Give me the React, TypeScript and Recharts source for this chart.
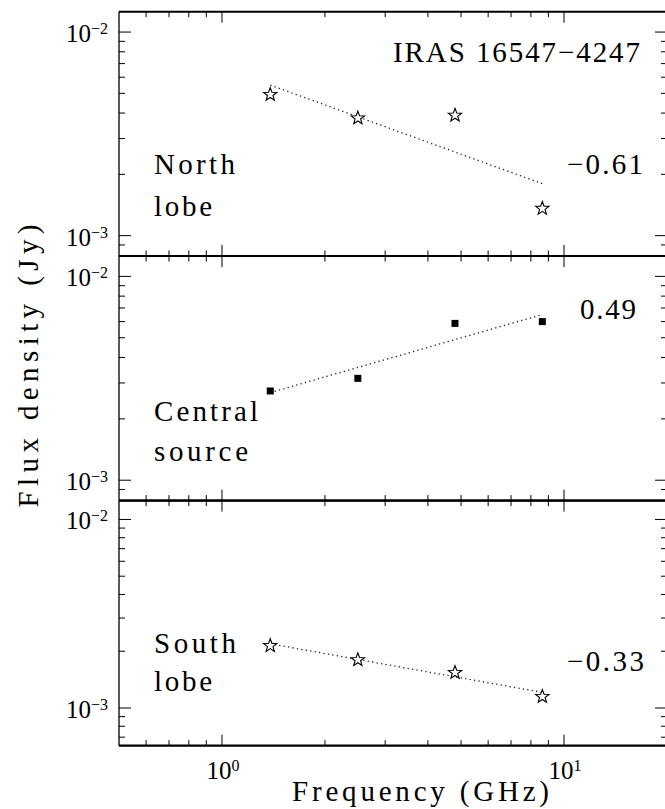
import React from 'react';
import { ScatterChart, Scatter, XAxis, YAxis } from 'recharts';

// ATCA frequencies (GHz) and flux densities (Jy)
const freqs = [1.384, 2.496, 4.8, 8.64];
const northFlux = [4.93e-3, 3.78e-3, 3.9e-3, 1.36e-3];
const centralFlux = [2.74e-3, 3.16e-3, 5.88e-3, 6.0e-3];
const southFlux = [2.14e-3, 1.8e-3, 1.54e-3, 1.15e-3];

// power-law fit end points
const fitFreqs = [1.384, 8.64];
const northFit = [5.49e-3, 1.8e-3];
const centralFit = [2.69e-3, 6.5e-3];
const southFit = [2.19e-3, 1.21e-3];

const xDomain = [0.5, 20];
const xTicks = [0.6, 0.7, 0.8, 0.9, 1, 2, 3, 4, 5, 6, 7, 8, 9, 10];
const xTickLabels: Record<number, string> = { 1: '0', 10: '1' };

const yTicks = [9e-4, 1e-3, 2e-3, 3e-3, 4e-3, 5e-3, 6e-3, 7e-3, 8e-3, 9e-3, 1e-2];
const yTicksSouth = [7e-4, 8e-4, 9e-4, 1e-3, 2e-3, 3e-3, 4e-3, 5e-3, 6e-3, 7e-3, 8e-3, 9e-3, 1e-2];
const yTickLabels: Record<number, string> = { 0.001: '−3', 0.01: '−2' };

const W = 700;
const H = 809;
const PLOT_LEFT = 119;
const PLOT_RIGHT = 667;
const FONT = '"Liberation Serif", "Times New Roman", serif';

const toPoints = (xs: number[], ys: number[]) => xs.map((nu, i) => ({ nu, s: ys[i] }));

function StarShape(props: any) {
  const { cx, cy } = props;
  if (cx == null || cy == null) return <g />;
  const pts: string[] = [];
  for (let k = 0; k < 10; k++) {
    const r = k % 2 === 0 ? 7 : 2.9;
    const a = -Math.PI / 2 + (k * Math.PI) / 5;
    pts.push(`${cx + r * Math.cos(a)},${cy + r * Math.sin(a)}`);
  }
  return <polygon points={pts.join(' ')} fill="#fff" stroke="#000" strokeWidth={1.1} />;
}

function SquareShape(props: any) {
  const { cx, cy } = props;
  if (cx == null || cy == null) return <g />;
  return <rect x={cx - 3.5} y={cy - 3.5} width={7} height={7} fill="#000" />;
}

const NoShape = () => <g />;

function XTick({ x, y, payload, side, labels }: any) {
  const v = payload.value;
  const major = v in xTickLabels;
  const len = major ? 11 : 5.5;
  const dir = side === 'top' ? 1 : -1;
  return (
    <g>
      <line x1={x} y1={y} x2={x} y2={y + dir * len} stroke="#000" strokeWidth={1} />
      {labels && major && (
        <text x={x + 1} y={y + 33} textAnchor="middle" fontFamily={FONT} fontSize={25} fill="#000">
          10
          <tspan dy={-8} fontSize={16}>{xTickLabels[v]}</tspan>
        </text>
      )}
    </g>
  );
}

function YTick({ x, y, payload, side }: any) {
  const v = payload.value;
  const major = v in yTickLabels;
  const len = major ? 12 : 6;
  const dir = side === 'right' ? -1 : 1;
  return (
    <g>
      <line x1={x} y1={y} x2={x + dir * len} y2={y} stroke="#000" strokeWidth={1} />
      {side === 'left' && major && (
        <text x={x - 11} y={y + 10} textAnchor="end" fontFamily={FONT} fontSize={25} fill="#000">
          10
          <tspan dy={-8} fontSize={16}>{yTickLabels[v]}</tspan>
        </text>
      )}
    </g>
  );
}

interface PanelProps {
  top: number;
  bottom: number;
  yDomain: number[];
  ticks: number[];
  data: { nu: number; s: number }[];
  fit: { nu: number; s: number }[];
  shape: any;
  showXLabels?: boolean;
}

function Panel({ top, bottom, yDomain, ticks, data, fit, shape, showXLabels }: PanelProps) {
  const common = { type: 'number' as const, scale: 'log' as const, allowDataOverflow: true, tickSize: 0, tickMargin: 0, tickLine: false, interval: 0 as const };
  return (
    <div style={{ position: 'absolute', left: 0, top: 0 }}>
      <ScatterChart width={W} height={H} margin={{ top: top - 1, bottom: H - bottom - 1, left: PLOT_LEFT - 1, right: W - PLOT_RIGHT - 1 }}>
        <XAxis
          {...common}
          xAxisId="b"
          dataKey="nu"
          domain={xDomain}
          ticks={xTicks}
          height={1}
          axisLine={{ stroke: '#000', strokeWidth: 2.2 }}
          tick={(p: any) => <XTick {...p} side="bottom" labels={showXLabels} />}
        />
        <XAxis
          {...common}
          xAxisId="t"
          orientation="top"
          dataKey="nu"
          domain={xDomain}
          ticks={xTicks}
          height={1}
          axisLine={{ stroke: '#000', strokeWidth: 2 }}
          tick={(p: any) => <XTick {...p} side="top" />}
        />
        <YAxis
          {...common}
          yAxisId="l"
          dataKey="s"
          domain={yDomain}
          ticks={ticks}
          width={1}
          axisLine={{ stroke: '#000', strokeWidth: 1.3 }}
          tick={(p: any) => <YTick {...p} side="left" />}
        />
        <YAxis
          {...common}
          yAxisId="r"
          orientation="right"
          dataKey="s"
          domain={yDomain}
          ticks={ticks}
          width={1}
          axisLine={{ stroke: '#000', strokeWidth: 1.3 }}
          tick={(p: any) => <YTick {...p} side="right" />}
        />
        <Scatter
          xAxisId="b"
          yAxisId="l"
          data={fit}
          shape={NoShape}
          line={{ stroke: '#222', strokeWidth: 1.3, strokeDasharray: '1.3 3.2' }}
          isAnimationActive={false}
        />
        <Scatter xAxisId="b" yAxisId="l" data={data} shape={shape} isAnimationActive={false} />
      </ScatterChart>
    </div>
  );
}

const texts = [
  { t: 'IRAS 16547−4247', x: 393, y: 62, len: 247 },
  { t: 'North', x: 154, y: 174, len: 81 },
  { t: 'lobe', x: 154, y: 216, len: 58 },
  { t: '−0.61', x: 567, y: 174, len: 76 },
  { t: '0.49', x: 580, y: 319, len: 56 },
  { t: 'Central', x: 154, y: 421, len: 104 },
  { t: 'source', x: 154, y: 461, len: 94 },
  { t: 'South', x: 154, y: 653, len: 82 },
  { t: 'lobe', x: 154, y: 691, len: 58 },
  { t: '−0.33', x: 567, y: 671, len: 77 },
  { t: 'Frequency (GHz)', x: 292, y: 801, len: 257 },
];

export default function App() {
  return (
    <div style={{ position: 'absolute', left: 0, top: 0, width: 665, height: 809, overflow: 'hidden', background: '#fff' }}>
      <Panel top={11.7} bottom={256} yDomain={[10 ** -3.1, 10 ** -1.9]} ticks={yTicks} data={toPoints(freqs, northFlux)} fit={toPoints(fitFreqs, northFit)} shape={StarShape} />
      <Panel top={256} bottom={500.6} yDomain={[10 ** -3.1, 10 ** -1.9]} ticks={yTicks} data={toPoints(freqs, centralFlux)} fit={toPoints(fitFreqs, centralFit)} shape={SquareShape} />
      <Panel top={500.6} bottom={745.7} yDomain={[10 ** -3.2, 10 ** -1.9]} ticks={yTicksSouth} data={toPoints(freqs, southFlux)} fit={toPoints(fitFreqs, southFit)} shape={StarShape} showXLabels />
      <svg width={665} height={809} style={{ position: 'absolute', left: 0, top: 0, pointerEvents: 'none' }}>
        {texts.map((d, i) => (
          <text key={i} x={d.x} y={d.y} fontFamily={FONT} fontSize={29} textLength={d.len} lengthAdjust="spacing" fill="#000">
            {d.t}
          </text>
        ))}
        <text
          x={0}
          y={0}
          transform="translate(38,366) rotate(-90)"
          textAnchor="middle"
          fontFamily={FONT}
          fontSize={29}
          textLength={283}
          lengthAdjust="spacing"
          fill="#000"
        >
          Flux density (Jy)
        </text>
      </svg>
    </div>
  );
}
